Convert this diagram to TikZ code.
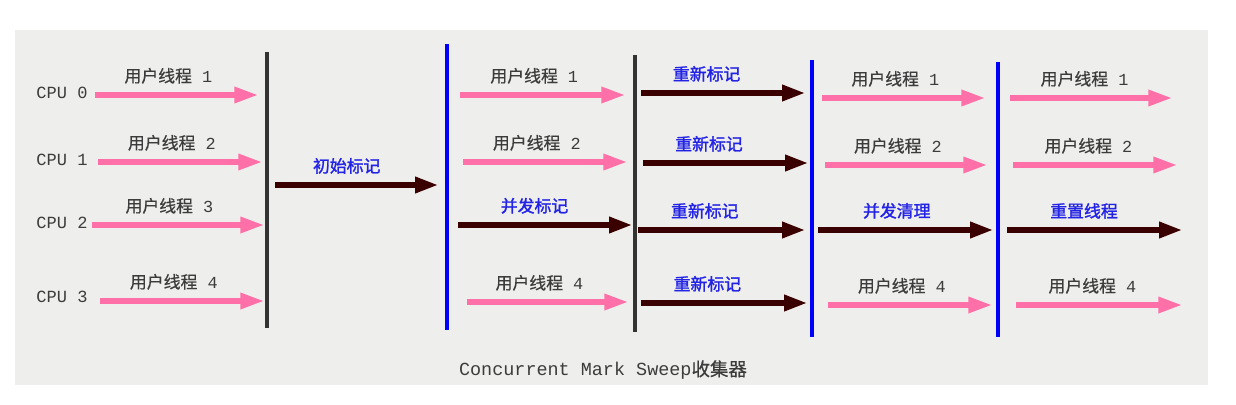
\documentclass[tikz,border=0pt]{standalone}
\usepackage{fontspec}
\setmainfont{Noto Sans CJK SC}[FakeBold=0.6]
\setmonofont{Liberation Mono}
\newfontfamily\gcfont{Noto Sans CJK SC}[FakeBold=1.6]
\usetikzlibrary{arrows.meta, positioning}
\definecolor{userpink}{RGB}{255, 112, 168}
\definecolor{gcbrown}{RGB}{58, 0, 0}
\definecolor{barblack}{RGB}{51, 51, 51}
\definecolor{barblue}{RGB}{0, 0, 250}
\definecolor{labelblue}{RGB}{35, 35, 230}
\definecolor{textgray}{RGB}{60, 60, 60}
\definecolor{panelgray}{RGB}{238, 238, 236}

\begin{document}
\begin{tikzpicture}[x=0.02cm, y=-0.02cm,
  userarrow/.style={draw=userpink, line width=2.9pt, -{Triangle[length=13.5pt, width=8.8pt]}},
  gcarrow/.style={draw=gcbrown, line width=2.9pt, -{Triangle[length=13pt, width=8.8pt]}},
  stwbar/.style={draw=barblack, line width=2.2pt},
  concbar/.style={draw=barblue, line width=2.2pt},
  cpulabel/.style={text=textgray, inner sep=0pt, font=\ttfamily\fontsize{9.7}{11}\selectfont},
  userlabel/.style={above=5pt, inner sep=0pt, pos=0.45, text=textgray, font=\fontsize{9.6}{11}\selectfont},
  gclabel/.style={userlabel, text=labelblue, font=\gcfont\fontsize{9.6}{11}\selectfont},
]
  % Panel
  \fill[white] (0, 0) rectangle (1236, 405);
  \fill[panelgray] (15, 30) rectangle (1208, 385);
  \useasboundingbox (0, 0) rectangle (1236, 405);

  % CPUs
  \node[cpulabel] (cpu0) at (62, 93) {CPU 0};
  \node[cpulabel] (cpu1) at (62, 160) {CPU 1};
  \node[cpulabel] (cpu2) at (62, 223) {CPU 2};
  \node[cpulabel] (cpu3) at (62, 297) {CPU 3};

  % Barriers
  \coordinate (b1t) at (267, 52);  \coordinate (b1b) at (267, 328);
  \coordinate (b2t) at (447, 44);  \coordinate (b2b) at (447, 330);
  \coordinate (b3t) at (635, 55);  \coordinate (b3b) at (635, 332);
  \coordinate (b4t) at (812, 60);  \coordinate (b4b) at (812, 337);
  \coordinate (b5t) at (998, 62);  \coordinate (b5b) at (998, 337);
  \draw[stwbar] (b1t) -- (b1b);
  \draw[concbar] (b2t) -- (b2b);
  \draw[stwbar] (b3t) -- (b3b);
  \draw[concbar] (b4t) -- (b4b);
  \draw[concbar] (b5t) -- (b5b);

  % Phase 1: user threads
  \coordinate (p1r0s) at (95, 95);   \coordinate (p1r0e) at (258, 95);
  \coordinate (p1r1s) at (98, 162);  \coordinate (p1r1e) at (262, 162);
  \coordinate (p1r2s) at (92, 225);  \coordinate (p1r2e) at (264, 225);
  \coordinate (p1r3s) at (100, 301); \coordinate (p1r3e) at (264, 301);
  \draw[userarrow] (p1r0s) -- node[userlabel] (l1r0) {用户线程\texttt{\ 1}} (p1r0e);
  \draw[userarrow] (p1r1s) -- node[userlabel] (l1r1) {用户线程\texttt{\ 2}} (p1r1e);
  \draw[userarrow] (p1r2s) -- node[userlabel] (l1r2) {用户线程\texttt{\ 3}} (p1r2e);
  \draw[userarrow] (p1r3s) -- node[userlabel] (l1r3) {用户线程\texttt{\ 4}} (p1r3e);

  % Phase 2: initial mark
  \coordinate (p2s) at (275, 185); \coordinate (p2e) at (438, 185);
  \draw[gcarrow] (p2s) -- node[gclabel, pos=0.44] (l2) {初始标记} (p2e);

  % Phase 3: concurrent mark
  \coordinate (p3r0s) at (460, 95);  \coordinate (p3r0e) at (625, 95);
  \coordinate (p3r1s) at (463, 162); \coordinate (p3r1e) at (627, 162);
  \coordinate (p3r2s) at (458, 225); \coordinate (p3r2e) at (632, 225);
  \coordinate (p3r3s) at (467, 302); \coordinate (p3r3e) at (628, 302);
  \draw[userarrow] (p3r0s) -- node[userlabel] (l3r0) {用户线程\texttt{\ 1}} (p3r0e);
  \draw[userarrow] (p3r1s) -- node[userlabel] (l3r1) {用户线程\texttt{\ 2}} (p3r1e);
  \draw[gcarrow] (p3r2s) -- node[gclabel, pos=0.44] (l3r2) {并发标记} (p3r2e);
  \draw[userarrow] (p3r3s) -- node[userlabel] (l3r3) {用户线程\texttt{\ 4}} (p3r3e);

  % Phase 4: remark
  \coordinate (p4r0s) at (641, 93);  \coordinate (p4r0e) at (805, 93);
  \coordinate (p4r1s) at (643, 163); \coordinate (p4r1e) at (808, 163);
  \coordinate (p4r2s) at (638, 230); \coordinate (p4r2e) at (805, 230);
  \coordinate (p4r3s) at (641, 303); \coordinate (p4r3e) at (807, 303);
  \draw[gcarrow] (p4r0s) -- node[gclabel, pos=0.4] (l4r0) {重新标记} (p4r0e);
  \draw[gcarrow] (p4r1s) -- node[gclabel, pos=0.4] (l4r1) {重新标记} (p4r1e);
  \draw[gcarrow] (p4r2s) -- node[gclabel, pos=0.4] (l4r2) {重新标记} (p4r2e);
  \draw[gcarrow] (p4r3s) -- node[gclabel, pos=0.4] (l4r3) {重新标记} (p4r3e);

  % Phase 5: concurrent sweep
  \coordinate (p5r0s) at (822, 98);  \coordinate (p5r0e) at (985, 98);
  \coordinate (p5r1s) at (825, 165); \coordinate (p5r1e) at (987, 165);
  \coordinate (p5r2s) at (818, 230); \coordinate (p5r2e) at (993, 230);
  \coordinate (p5r3s) at (828, 305); \coordinate (p5r3e) at (992, 305);
  \draw[userarrow] (p5r0s) -- node[userlabel] (l5r0) {用户线程\texttt{\ 1}} (p5r0e);
  \draw[userarrow] (p5r1s) -- node[userlabel] (l5r1) {用户线程\texttt{\ 2}} (p5r1e);
  \draw[gcarrow] (p5r2s) -- node[gclabel] (l5r2) {并发清理} (p5r2e);
  \draw[userarrow] (p5r3s) -- node[userlabel] (l5r3) {用户线程\texttt{\ 4}} (p5r3e);

  % Phase 6: reset
  \coordinate (p6r0s) at (1010, 98);  \coordinate (p6r0e) at (1172, 98);
  \coordinate (p6r1s) at (1013, 165); \coordinate (p6r1e) at (1177, 165);
  \coordinate (p6r2s) at (1007, 230); \coordinate (p6r2e) at (1182, 230);
  \coordinate (p6r3s) at (1016, 305); \coordinate (p6r3e) at (1182, 305);
  \draw[userarrow] (p6r0s) -- node[userlabel, pos=0.46] (l6r0) {用户线程\texttt{\ 1}} (p6r0e);
  \draw[userarrow] (p6r1s) -- node[userlabel, pos=0.46] (l6r1) {用户线程\texttt{\ 2}} (p6r1e);
  \draw[gcarrow] (p6r2s) -- node[gclabel, pos=0.44] (l6r2) {重置线程} (p6r2e);
  \draw[userarrow] (p6r3s) -- node[userlabel, pos=0.46] (l6r3) {用户线程\texttt{\ 4}} (p6r3e);

  % Caption
  \node[text=textgray, font=\fontsize{10.5}{12}\selectfont] (caption) at (603, 370)
    {\texttt{Concurrent Mark Sweep}收集器};
\end{tikzpicture}
\end{document}
